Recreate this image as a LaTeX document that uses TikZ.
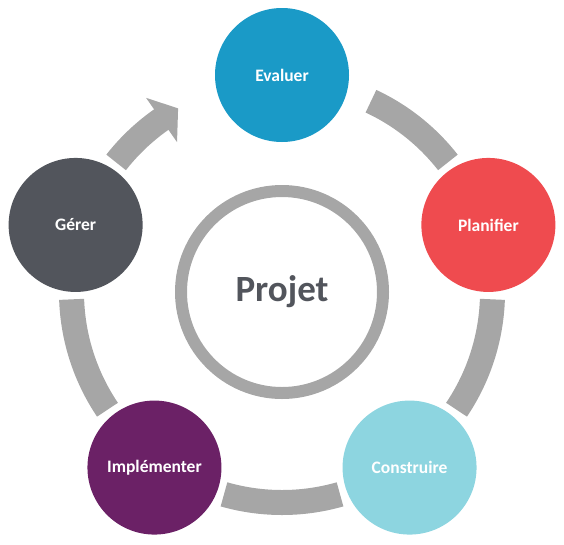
\documentclass[tikz,border=0pt]{standalone}
\usepackage{fontspec}
\setmainfont{Carlito}
\usetikzlibrary{calc}
\definecolor{arcgray}{HTML}{A6A6A6}
\definecolor{projgray}{HTML}{52555C}
\definecolor{evalblue}{HTML}{1A9AC7}
\definecolor{planred}{HTML}{EF4B4F}
\definecolor{constcyan}{HTML}{8DD5E0}
\definecolor{implpurple}{HTML}{6B2166}
\definecolor{gerergray}{HTML}{52555C}
\begin{document}
\begin{tikzpicture}[x=1pt,y=1pt,
  stage/.style={circle, minimum size=134pt, inner sep=0pt, text=white,
    font=\bfseries\fontsize{17.5}{20}\selectfont},
  ringarc/.style={draw=arcgray, line width=25pt},
  hub/.style={circle, draw=arcgray, line width=12pt, minimum size=202pt,
    inner sep=0pt, text=projgray, font=\bfseries\fontsize{37}{44}\selectfont}]
\useasboundingbox (0,0) rectangle (564,-544);
\coordinate (c) at (282,-292);
\node[hub] (projet) at (c) {Projet};
\node[stage, fill=evalblue] (evaluer) at ([shift={(90:217)}]c) {Evaluer};
\node[stage, fill=planred] (planifier) at ([shift={(18:217)}]c) {Planifier};
\node[stage, fill=constcyan] (construire) at ([shift={(-54:217)}]c) {Construire};
\node[stage, fill=implpurple] (implementer) at ([shift={(234:217)}]c) {Implémenter};
\node[stage, fill=gerergray] (gerer) at ([shift={(162:217)}]c) {Gérer};
% arcs between stages
\draw[ringarc] ([shift={(65:210.5)}]c) arc[start angle=65, end angle=38, radius=210.5];
\draw[ringarc] ([shift={(-2:210.5)}]c) arc[start angle=-2, end angle=-34, radius=210.5];
\draw[ringarc] ([shift={(286:210.5)}]c) arc[start angle=286, end angle=254, radius=210.5];
\draw[ringarc] ([shift={(214:210.5)}]c) arc[start angle=214, end angle=182, radius=210.5];
% arrow from Gerer to Evaluer
\draw[ringarc] ([shift={(142:210.5)}]c) arc[start angle=142, end angle=124.6, radius=210.5];
\fill[arcgray] ([shift={(125:183)}]c) -- ([shift={(125:237)}]c) -- ([shift={(119.5:211)}]c) -- cycle;
\end{tikzpicture}
\end{document}
